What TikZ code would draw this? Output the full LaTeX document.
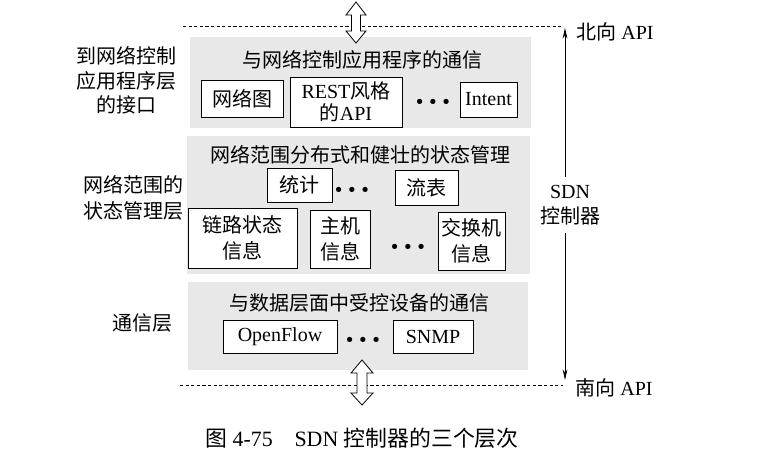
\documentclass[tikz,border=0pt]{standalone}
\usepackage{fontspec}
\setmainfont{Liberation Serif}
\newfontfamily\cjkfont{Noto Sans CJK SC}
\newcommand\zhtext[1]{{\cjkfont #1}}
\usetikzlibrary{arrows.meta}
\begin{document}
\begin{tikzpicture}[x=0.75pt,y=-0.75pt,
  font=\fontsize{15}{18}\selectfont,
  layer/.style={fill=black!9,draw=none},
  box/.style={draw,fill=white,line width=0.6pt,inner sep=0pt,align=center},
  txt/.style={inner sep=0pt,align=center},
  dotsep/.style={inner sep=0pt,font=\fontsize{24}{24}\selectfont\bfseries},
  dashline/.style={line width=0.5pt,dash pattern=on 2.4pt off 1.8pt},
  dblarrow/.style={draw,fill=white,line width=0.6pt,line join=miter},
  sarrow/.style={line width=0.6pt,-{Stealth[length=8pt,width=3.6pt]}}]
\useasboundingbox (0,0) rectangle (760,474);

% layers
\path[layer] (190,37) rectangle (531,128);
\path[layer] (187,136) rectangle (530,274);
\path[layer] (188,282) rectangle (528,370);

% dashed API lines
\coordinate (nl) at (183,26);
\coordinate (nr) at (563,26);
\coordinate (sl) at (180,385);
\coordinate (sr) at (563,385);
\draw[dashline] (nl) -- (nr);
\draw[dashline] (sl) -- (sr);

% double arrows
\draw[dblarrow] (356,2) -- (366,15) -- (360.5,15) -- (360.5,31) -- (366,31) -- (356,43)
  -- (346,31) -- (351.5,31) -- (351.5,15) -- (346,15) -- cycle;
\draw[dblarrow] (362,360) -- (373,373) -- (367,373) -- (367,393) -- (373,393) -- (362,405)
  -- (351,393) -- (357,393) -- (357,373) -- (351,373) -- cycle;

% layer 1
\node[txt] (t1) at (362,60) {\zhtext{与网络控制应用程序的通信}};
\node[box,minimum width=61.5pt,minimum height=27.75pt] (wlt) at (242,98.5) {\zhtext{网络图}};
\node[box,minimum width=84pt,minimum height=37.5pt,font=\fontsize{15}{16.5}\selectfont] (rest) at (346,102) {REST\zhtext{风格}\\\zhtext{的}API};
\node[dotsep] (d1) at (433,105.5) {·\kern2pt·\kern2pt·};
\node[box,minimum width=42.75pt,minimum height=26.25pt] (intent) at (488.5,99.5) {Intent};

% layer 2
\node[txt] (t2) at (360,155) {\zhtext{网络范围分布式和健壮的状态管理}};
\node[box,minimum width=48.75pt,minimum height=25.5pt] (tj) at (299.5,185) {\zhtext{统计}};
\node[dotsep] (d2) at (352,193.5) {·\kern2pt·\kern2pt·};
\node[box,minimum width=47.25pt,minimum height=26.25pt] (lb) at (426.5,187.5) {\zhtext{流表}};
\node[box,minimum width=81.75pt,minimum height=45pt,font=\fontsize{15}{19.5}\selectfont] (link) at (242.5,238) {\zhtext{链路状态}\\\zhtext{信息}};
\node[box,minimum width=45pt,minimum height=43.5pt,font=\fontsize{15}{19.5}\selectfont] (host) at (340,239) {\zhtext{主机}\\\zhtext{信息}};
\node[dotsep] (d3) at (408,250.5) {·\kern2pt·\kern2pt·};
\node[box,minimum width=50.25pt,minimum height=43.5pt,font=\fontsize{15}{19.5}\selectfont] (sw) at (471.5,241) {\zhtext{交换机}\\\zhtext{信息}};

% layer 3
\node[txt] (t3) at (359,303) {\zhtext{与数据层面中受控设备的通信}};
\node[box,minimum width=85.5pt,minimum height=24.75pt] (of) at (280,336.5) {OpenFlow};
\node[dotsep] (d4) at (363,343.5) {·\kern2pt·\kern2pt·};
\node[box,minimum width=60pt,minimum height=24.75pt] (snmp) at (433,336.5) {SNMP};

% left labels
\node[txt,font=\fontsize{15}{18.4}\selectfont] (l1) at (126,80.5) {\zhtext{到网络控制}\\\zhtext{应用程序层}\\\zhtext{的接口}};
\node[txt,font=\fontsize{15}{19.5}\selectfont] (l2) at (133,198) {\zhtext{网络范围的}\\\zhtext{状态管理层}};
\node[txt] (l3) at (142,323) {\zhtext{通信层}};

% right side
\coordinate (ntop) at (565,28);
\coordinate (sbot) at (565,380);
\node[txt,inner ysep=6pt,font=\fontsize{15}{18.75}\selectfont] (sdn) at (570,205) {SDN\\\zhtext{控制器}};
\draw[sarrow] (sdn.north -| ntop) -- (ntop);
\draw[sarrow] (sdn.south -| sbot) -- (sbot);
\node[txt] (napi) at (615,32) {\zhtext{北向} API};
\node[txt] (sapi) at (614,388) {\zhtext{南向} API};

% caption
\node[txt,font=\fontsize{16.4}{20}\selectfont] (cap) at (362,438) {\zhtext{图} 4-75\quad SDN \zhtext{控制器的三个层次}};
\end{tikzpicture}
\end{document}
